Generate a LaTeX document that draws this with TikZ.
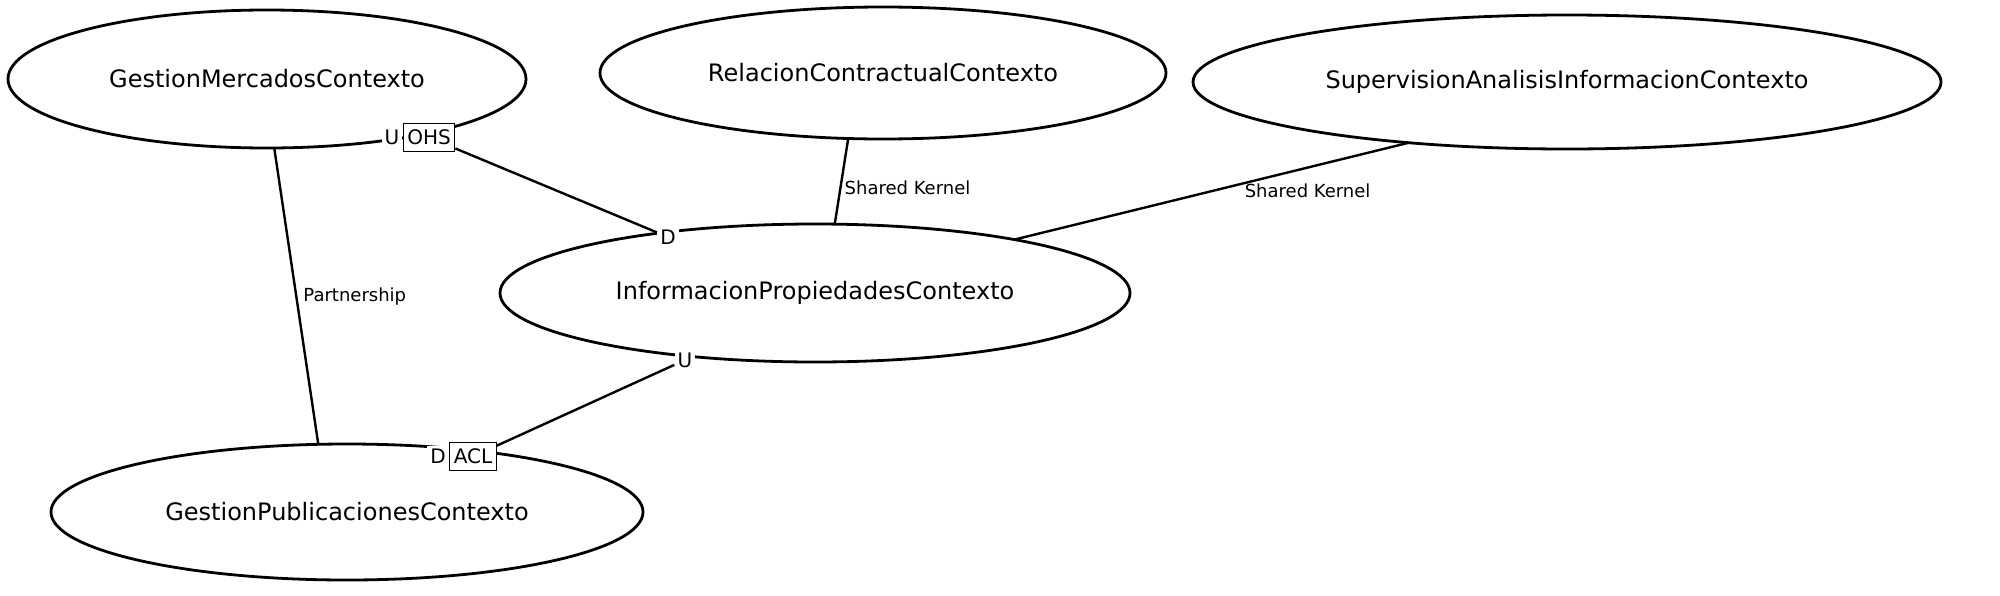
\documentclass[tikz,border=0pt]{standalone}
\usepackage{fontspec}
\setmainfont{DejaVu Sans}
\usetikzlibrary{shapes.geometric,positioning}
\tikzset{
 ctx/.style
  = {ellipse, draw, line width=1.4pt, inner sep=0pt, outer sep=0pt,
     font=\fontsize{12}{14}\selectfont},
 rel/.style
  = {draw, line width=1.2pt},
 tag/.style
  = {rectangle, draw, line width=0.6pt, fill=white, inner sep=2pt,
     minimum height=14pt, font=\fontsize{10}{12}\selectfont},
 role/.style
  = {fill=white, inner sep=1.5pt, font=\fontsize{10}{12}\selectfont},
 kind/.style
  = {inner sep=1pt, font=\fontsize{9}{11}\selectfont},
}
\begin{document}
\begin{tikzpicture}[x=0.5pt,y=-0.5pt]
\useasboundingbox (0,0) rectangle (2000,595);

% Contexts
\node[ctx, minimum width=259pt, minimum height=69pt] (gm) at (267,79) {GestionMercadosContexto};
\node[ctx, minimum width=283pt, minimum height=66pt] (rc) at (883,73) {RelacionContractualContexto};
\node[ctx, minimum width=374pt, minimum height=67pt] (sa) at (1567,82) {SupervisionAnalisisInformacionContexto};
\node[ctx, minimum width=315pt, minimum height=69pt] (ip) at (815,293) {InformacionPropiedadesContexto};
\node[ctx, minimum width=296pt, minimum height=68pt] (gp) at (347,512) {GestionPublicacionesContexto};

% Upstream / downstream labels
\node[tag] (ohs) at (429,137.5) {OHS};
\node[role, left=0pt of ohs] (ugm) {U};
\node[role] (dip) at (668,237) {D};
\node[role] (uip) at (685,360) {U};
\node[tag] (acl) at (473,456.5) {ACL};
\node[role, left=0pt of acl] (dgp) {D};

% Relationships
\draw[rel] (ohs) -- (dip);
\draw[rel] (acl) -- (uip);
\draw[rel] (gm.276) -- (gp.113) node[kind, midway, right, xshift=2pt] {Partnership};
\draw[rel] (rc.242) -- (ip.74) node[kind, midway, right, yshift=-3pt] {Shared Kernel};
\draw[rel] (sa.201) -- (ip.15) node[kind, midway, right, xshift=15pt] {Shared Kernel};

\end{tikzpicture}
\end{document}
